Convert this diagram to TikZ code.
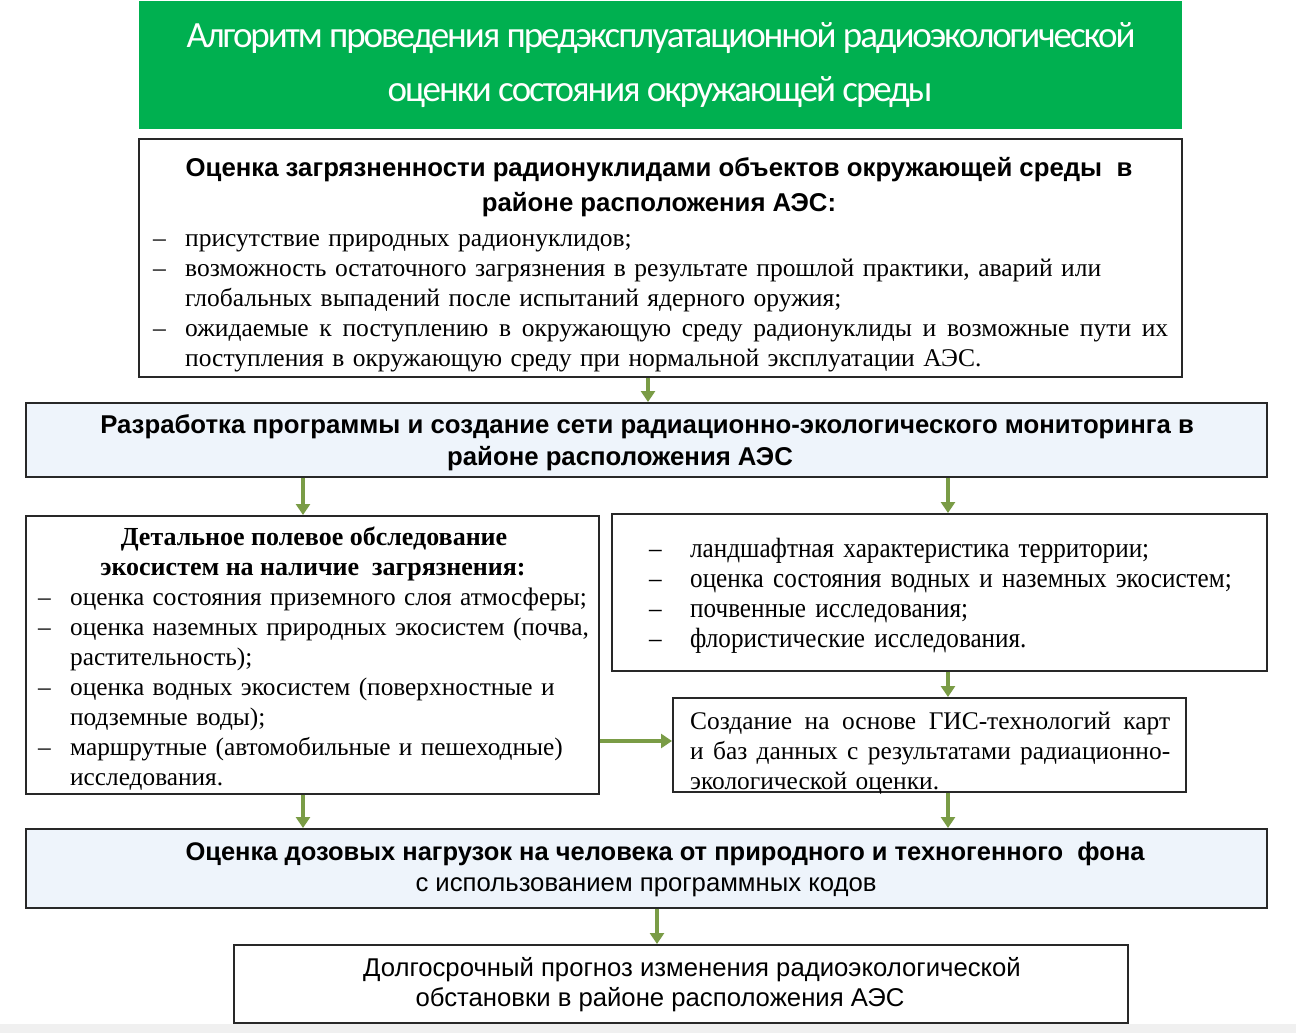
\documentclass[tikz,border=0pt]{standalone}
\usepackage{fontspec}
\setmainfont{Liberation Serif}
\setsansfont{Liberation Sans}
\newfontfamily\titlefont[LetterSpace=-5.6]{Carlito}
\newfontfamily\narrowserif[FakeStretch=0.905]{Liberation Serif}
\usetikzlibrary{arrows.meta,calc}
\definecolor{titlegreen}{RGB}{0,176,80}
\definecolor{lightblue}{RGB}{238,244,251}
\definecolor{arrowgreen}{RGB}{122,156,70}
\definecolor{stripgray}{RGB}{240,240,240}
\definecolor{boxline}{RGB}{40,40,40}
\newcommand\dsh{\makebox[32pt][l]{–}}
\newcommand\ind{\hspace*{32pt}}
\newcommand\jline[2]{\makebox[#1][s]{\spaceskip=0pt\relax\xspaceskip=0pt\relax #2}}
\begin{document}
\begin{tikzpicture}[x=1pt,y=-1pt,
  box/.style={draw=boxline, line width=1.6pt, rectangle, inner sep=0pt, anchor=north west},
  bluebox/.style={box, fill=lightblue},
  arr/.style={draw=arrowgreen, line width=3.5pt, -{Triangle[length=11pt,width=14pt]}},
  ttl/.style={inner sep=0pt, anchor=base, text=white, font=\titlefont\fontsize{37}{40}\selectfont},
  hdr/.style={inner sep=0pt, anchor=base, font=\sffamily\bfseries\fontsize{25.75}{30}\selectfont},
  sline/.style={inner sep=0pt, anchor=base, font=\sffamily\fontsize{25.7}{30}\selectfont},
  shdr/.style={inner sep=0pt, anchor=base, font=\rmfamily\bfseries\fontsize{26}{30}\selectfont},
  lst/.style={inner sep=0pt, anchor=base west, text width=1150pt, align=left, font=\rmfamily\fontsize{25.5}{30}\selectfont},
]
\useasboundingbox (0,0) rectangle (1296,1033);
\fill[white] (0,0) rectangle (1296,1033);
\fill[stripgray] (0,1024) rectangle (1296,1033);

% title
\node[box, draw=none, fill=titlegreen, minimum width=1043pt, minimum height=128pt] (title) at (138,0) {};
\node[ttl] (t1) at (661,48) {Алгоритм проведения предэксплуатационной радиоэкологической};
\node[ttl] (t2) at (660,101) {оценки состояния окружающей среды};

% boxes
\node[box, minimum width=1043pt, minimum height=238pt] (b1) at (138,138) {};
\node[bluebox, minimum width=1241pt, minimum height=74pt] (b2) at (25,402) {};
\node[box, minimum width=573pt, minimum height=278pt] (b3) at (25,515) {};
\node[box, minimum width=655pt, minimum height=157pt] (b4) at (611,513) {};
\node[box, minimum width=513pt, minimum height=94pt] (b5) at (672,697) {};
\node[bluebox, minimum width=1241pt, minimum height=79pt] (b6) at (25,828) {};
\node[box, minimum width=894pt, minimum height=78pt] (b7) at (233,944) {};

% box 1 text
\node[hdr] (h1a) at (659,176) {Оценка загрязненности радионуклидами объектов окружающей среды\ \ в};
\node[hdr] (h1b) at (659,211) {районе расположения АЭС:};
\node[lst] (l1) at (153,246) {\dsh присутствие природных радионуклидов;\\
\dsh возможность остаточного загрязнения в результате прошлой практики, аварий или\\
\ind глобальных выпадений после испытаний ядерного оружия;\\
\dsh \jline{983pt}{ожидаемые к поступлению в окружающую среду радионуклиды и возможные пути их}\\
\ind поступления в окружающую среду при нормальной эксплуатации АЭС.};

% box 2 text
\node[hdr] (h2a) at (647,433) {Разработка программы и создание сети радиационно-экологического мониторинга в};
\node[hdr] (h2b) at (620,465) {районе расположения АЭС};

% box 3 text
\node[shdr] (h3a) at (314,545) {Детальное полевое обследование};
\node[shdr] (h3b) at (313,575) {экосистем на наличие\ \ загрязнения:};
\node[lst, font=\rmfamily\fontsize{25.3}{30}\selectfont] (l3) at (38,605) {\dsh оценка состояния приземного слоя атмосферы;\\
\dsh оценка наземных природных экосистем (почва,\\
\ind растительность);\\
\dsh оценка водных экосистем (поверхностные и\\
\ind подземные воды);\\
\dsh маршрутные (автомобильные и пешеходные)\\
\ind исследования.};

% box 4 text
\node[lst, font=\narrowserif\fontsize{27.8}{30}\selectfont] (l4) at (649,557) {\makebox[41pt][l]{–}ландшафтная характеристика территории;\\
\makebox[41pt][l]{–}оценка состояния водных и наземных экосистем;\\
\makebox[41pt][l]{–}почвенные исследования;\\
\makebox[41pt][l]{–}флористические исследования.};

% box 5 text
\node[lst, font=\rmfamily\fontsize{25.4}{30}\selectfont] (l5) at (690,729) {\jline{480pt}{Создание на основе ГИС-технологий карт}\\
\jline{480pt}{и баз данных с результатами радиационно-}\\
экологической оценки.};

% box 6 text
\node[hdr, font=\sffamily\bfseries\fontsize{25.5}{30}\selectfont] (h6a) at (665,860) {Оценка дозовых нагрузок на человека от природного и техногенного\ \ фона};
\node[sline] (h6b) at (646,891) {с использованием программных кодов};

% box 7 text
\node[sline] (h7a) at (692,976) {Долгосрочный прогноз изменения радиоэкологической};
\node[sline] (h7b) at (660,1006) {обстановки в районе расположения АЭС};

% connectors
\coordinate (xa) at (648,0);
\coordinate (xb) at (303,0);
\coordinate (xc) at (948,0);
\coordinate (xd) at (657,0);
\coordinate (ya) at (0,741);
\draw[arr] (b1.south -| xa) -- (b2.north -| xa);
\draw[arr] (b2.south -| xb) -- (b3.north -| xb);
\draw[arr] (b2.south -| xc) -- (b4.north -| xc);
\draw[arr] (b4.south -| xc) -- (b5.north -| xc);
\draw[arr] (b3.east |- ya) -- (b5.west |- ya);
\draw[arr] (b3.south -| xb) -- (b6.north -| xb);
\draw[arr] (b5.south -| xc) -- (b6.north -| xc);
\draw[arr] (b6.south -| xd) -- (b7.north -| xd);
\end{tikzpicture}
\end{document}
